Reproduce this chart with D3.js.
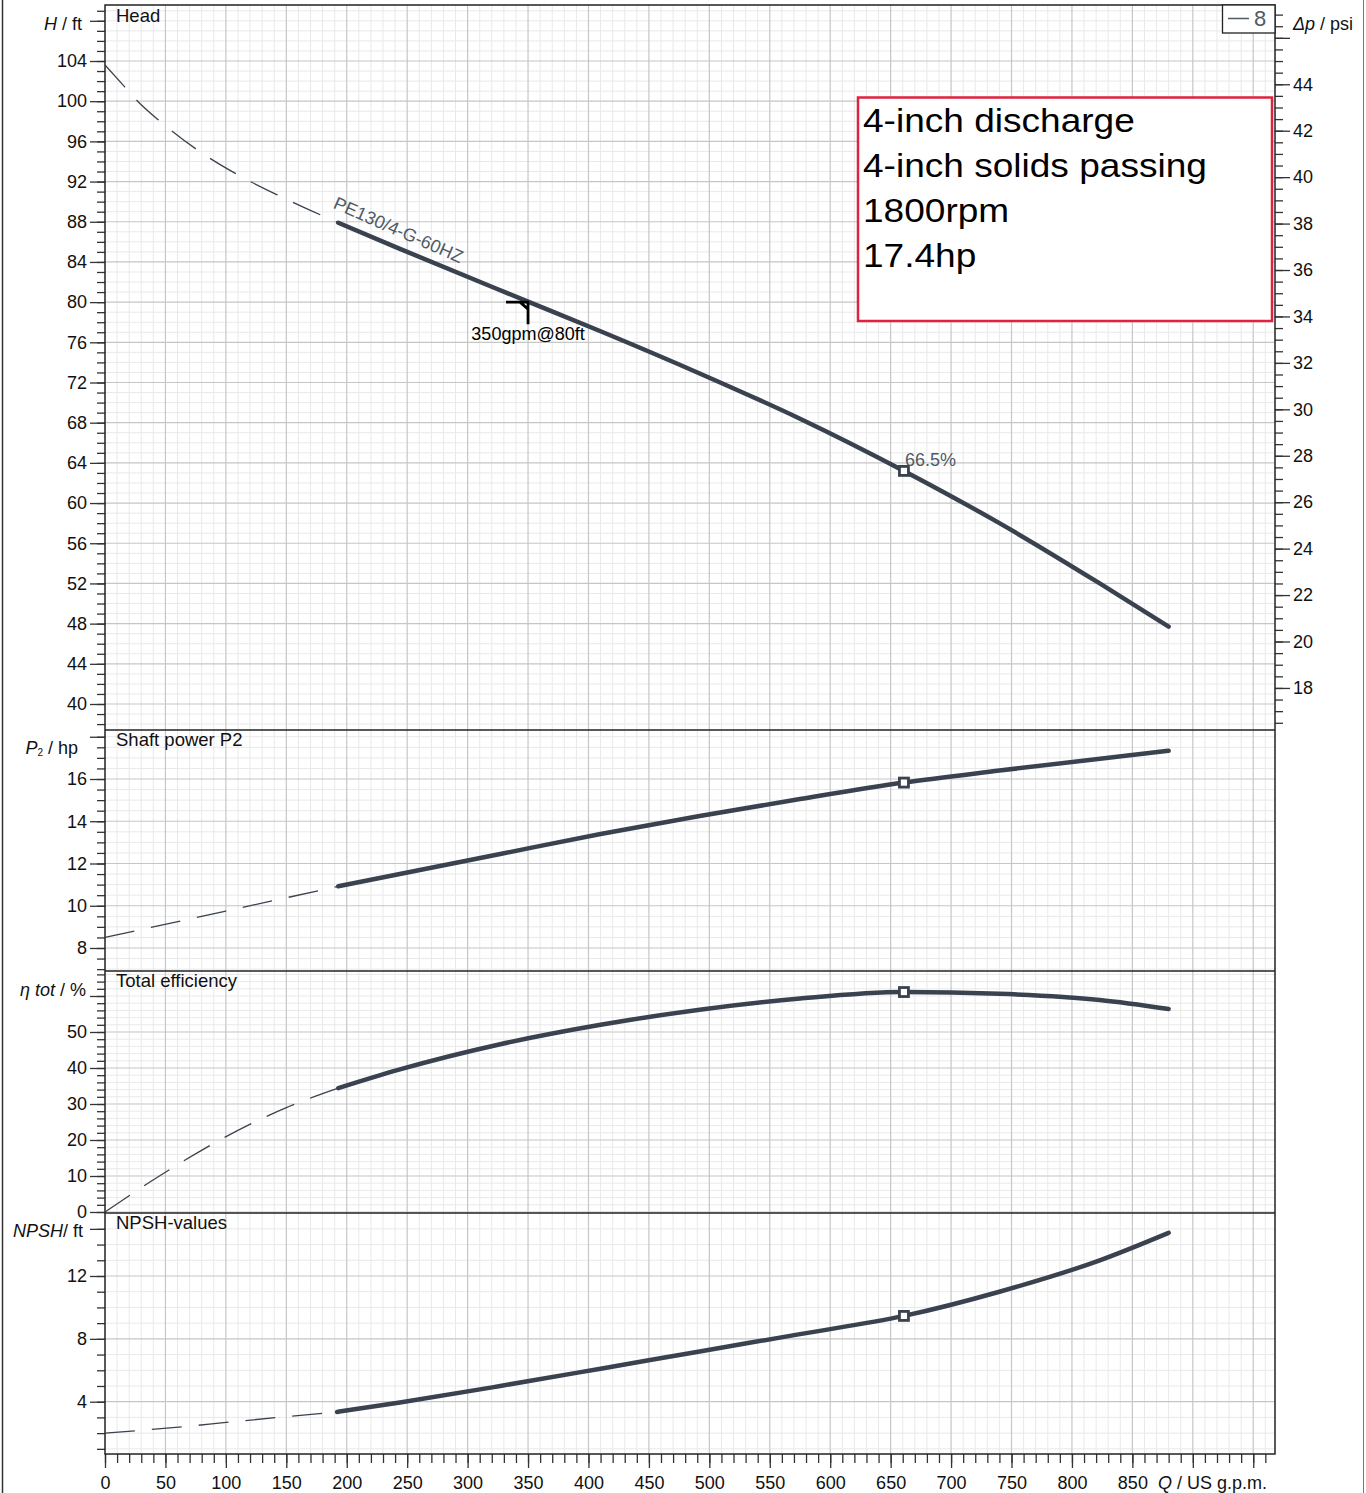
<!doctype html>
<html lang="en">
<head>
<meta charset="utf-8">
<title>PE130/4-G-60HZ</title>
<script src="https://d3js.org/d3.v7.min.js"></script>
<style>
  body { margin: 0; background: #fff; }
  svg { display: block; font-family: "Liberation Sans", Arial, Helvetica, sans-serif; }
  .tick line { stroke: #333; stroke-width: 1.3; }
  .tick text { fill: #111; font-size: 18px; }
</style>
</head>
<body>
<div id="chart"></div>
<script>
// ---- values (Q in US gpm) ----
var flowLabels = d3.range(0, 851, 50);

var headDashQ = [0, 16.5, 27, 45.5, 77, 111, 145.6, 193];
var headDashH = [103.6, 101.4, 100.0, 98.0, 95.1, 92.6, 90.5, 87.9];
var headQ = [193, 244, 349, 410, 492, 575, 661, 740, 823, 880];
var headH = [87.9, 85.3, 80.1, 77.1, 72.9, 68.4, 63.2, 58.0, 52.0, 47.7];

var powerDashQ = [0, 100, 193];
var powerDashP = [8.5, 9.75, 10.92];
var powerQ = [193, 327, 410, 492, 575, 661, 740, 880];
var powerP = [10.92, 12.45, 13.4, 14.25, 15.05, 15.83, 16.4, 17.34];

var effDashQ = [0, 45, 95, 150, 193];
var effDashE = [0, 10, 20, 29, 34.4];
var effQ = [193, 244, 327, 410, 492, 575, 661, 740, 823, 880];
var effE = [34.4, 39.6, 46.6, 52.0, 56.2, 59.3, 61.1, 60.6, 58.9, 56.4];

var npshDashQ = [0, 25, 64, 103, 143, 192];
var npshDashN = [2.0, 2.15, 2.4, 2.7, 3.0, 3.35];
var npshQ = [192, 244, 327, 410, 492, 575, 661, 740, 823, 880];
var npshN = [3.35, 3.95, 5.0, 6.1, 7.2, 8.3, 9.46, 11.0, 13.0, 14.75];

var bepQ = 661;
var dutyQ = 350, dutyH = 80;
var infoLines = ["4-inch discharge", "4-inch solids passing", "1800rpm", "17.4hp"];
var ftPerPsi = 2.311;

var headLabels = d3.range(40, 105, 4);
var psiLabels = d3.range(18, 45, 2);
var powerLabels = d3.range(8, 17, 2);
var effLabels = d3.range(0, 51, 10);
var npshLabels = [4, 8, 12];

// ---- layout ----
var width = 1366, height = 1493;
var plotLeft = 105, plotRight = 1275, plotTop = 5, plotBottom = 1454;
var ink = "#39424e", grey = "#4f5a66";

var svg = d3.select("#chart").append("svg")
    .attr("width", width)
    .attr("height", height);

var x = d3.scaleLinear().domain([0, 968]).range([plotLeft, plotRight]);

var panels = [
  { title: "Head", top: plotTop, bottom: 730,
    y: d3.scaleLinear().domain([40, 104]).range([704, 61]),
    minor: d3.range(38, 110, 1), major: d3.range(40, 109, 4), labels: headLabels },
  { title: "Shaft power P2", top: 730, bottom: 971,
    y: d3.scaleLinear().domain([8, 16]).range([948, 779]),
    minor: d3.range(7, 18.5, 0.5), major: d3.range(8, 19, 2), labels: powerLabels },
  { title: "Total efficiency", top: 971, bottom: 1213,
    y: d3.scaleLinear().domain([0, 50]).range([1212, 1032]),
    minor: d3.range(0, 67, 2), major: d3.range(0, 61, 10), labels: effLabels },
  { title: "NPSH-values", top: 1213, bottom: plotBottom,
    y: d3.scaleLinear().domain([4, 12]).range([1401.7, 1276]),
    minor: d3.range(1, 17, 1), major: [4, 8, 12, 15], labels: npshLabels }
];

function inside(p, v) {
  var yy = p.y(v);
  return yy > p.top + 0.5 && yy < p.bottom - 0.5;
}

// ---- grid ----
var grid = svg.append("g");
var vMinor = d3.range(10, 968, 10).filter(function(d) { return d % 50 !== 0; });
var vMajor = d3.range(50, 968, 50);

grid.selectAll(".vminor").data(vMinor).enter().append("line")
    .attr("x1", x).attr("x2", x).attr("y1", plotTop).attr("y2", plotBottom)
    .attr("stroke", "#e9e9e9").attr("stroke-width", 1);

panels.forEach(function(p) {
  grid.append("g").selectAll("line")
      .data(p.minor.filter(function(v) { return inside(p, v) && p.labels.indexOf(v) < 0; }))
      .enter().append("line")
      .attr("x1", plotLeft).attr("x2", plotRight)
      .attr("y1", p.y).attr("y2", p.y)
      .attr("stroke", "#e9e9e9").attr("stroke-width", 1);
});

grid.selectAll(".vmajor").data(vMajor).enter().append("line")
    .attr("x1", x).attr("x2", x).attr("y1", plotTop).attr("y2", plotBottom)
    .attr("stroke", "#c6c6c6").attr("stroke-width", 1.2);

panels.forEach(function(p) {
  grid.append("g").selectAll("line")
      .data(p.labels.filter(function(v) { return inside(p, v); }))
      .enter().append("line")
      .attr("x1", plotLeft).attr("x2", plotRight)
      .attr("y1", p.y).attr("y2", p.y)
      .attr("stroke", "#c6c6c6").attr("stroke-width", 1.2);
});

// ---- axes ----
panels.forEach(function(p) {
  var minorG = svg.append("g").attr("transform", "translate(" + plotLeft + ",0)")
      .call(d3.axisLeft(p.y).tickValues(p.minor.filter(function(v) { return inside(p, v); }))
        .tickSize(8).tickFormat(""));
  minorG.select(".domain").remove();
  var majorG = svg.append("g").attr("transform", "translate(" + plotLeft + ",0)")
      .call(d3.axisLeft(p.y).tickValues(p.major).tickSize(15).tickPadding(3)
        .tickFormat(function(v) { return p.labels.indexOf(v) >= 0 ? v : ""; }));
  majorG.select(".domain").remove();
});

var psi = d3.scaleLinear().domain([40 / ftPerPsi, 104 / ftPerPsi]).range([704, 61]);
var psiMinor = d3.range(16.5, 47.5, 0.5);
var psiMajor = d3.range(18, 47, 2);
var rMinor = svg.append("g").attr("transform", "translate(" + plotRight + ",0)")
    .call(d3.axisRight(psi).tickValues(psiMinor).tickSize(8).tickFormat(""));
rMinor.select(".domain").remove();
var rMajor = svg.append("g").attr("transform", "translate(" + plotRight + ",0)")
    .call(d3.axisRight(psi).tickValues(psiMajor).tickSize(15).tickPadding(3)
      .tickFormat(function(v) { return psiLabels.indexOf(v) >= 0 ? v : ""; }));
rMajor.select(".domain").remove();

var bMinor = svg.append("g").attr("transform", "translate(0," + plotBottom + ")")
    .call(d3.axisBottom(x).tickValues(d3.range(0, 968, 10)).tickSize(9).tickFormat(""));
bMinor.select(".domain").remove();
var bMajor = svg.append("g").attr("transform", "translate(0," + plotBottom + ")")
    .call(d3.axisBottom(x).tickValues(d3.range(0, 968, 50)).tickSize(14).tickPadding(8)
      .tickFormat(function(v) { return flowLabels.indexOf(v) >= 0 ? v : ""; }));
bMajor.select(".domain").remove();

// ---- frame and panel borders ----
var frame = svg.append("g").attr("fill", "none");
frame.append("rect")
    .attr("x", plotLeft).attr("y", plotTop)
    .attr("width", plotRight - plotLeft).attr("height", plotBottom - plotTop)
    .attr("stroke", "#222").attr("stroke-width", 1.5);
frame.selectAll(".sep").data(panels.slice(1)).enter().append("line")
    .attr("x1", plotLeft).attr("x2", plotRight)
    .attr("y1", function(p) { return p.top; }).attr("y2", function(p) { return p.top; })
    .attr("stroke", "#222").attr("stroke-width", 1.5);
frame.append("line").attr("x1", 2.5).attr("x2", 2.5).attr("y1", 0).attr("y2", height)
    .attr("stroke", "#333").attr("stroke-width", 1.5);
frame.append("line").attr("x1", 1363.5).attr("x2", 1363.5).attr("y1", 0).attr("y2", height)
    .attr("stroke", "#777").attr("stroke-width", 1);

// ---- curves ----
function path(p, qs, vs) {
  return d3.line()
      .x(function(d, i) { return x(qs[i]); })
      .y(function(d, i) { return p.y(vs[i]); })
      .curve(d3.curveMonotoneX)(qs);
}

var series = [
  [panels[0], headDashQ, headDashH, headQ, headH],
  [panels[1], powerDashQ, powerDashP, powerQ, powerP],
  [panels[2], effDashQ, effDashE, effQ, effE],
  [panels[3], npshDashQ, npshDashN, npshQ, npshN]
];

var curves = svg.append("g").attr("fill", "none").attr("stroke", ink);
series.forEach(function(s) {
  curves.append("path").attr("d", path(s[0], s[1], s[2]))
      .attr("stroke-width", 1.3).attr("stroke-dasharray", "30,17");
  curves.append("path").attr("d", path(s[0], s[3], s[4]))
      .attr("stroke-width", 4.5).attr("stroke-linecap", "round");
});

// best efficiency point markers
series.forEach(function(s) {
  var i = s[3].indexOf(bepQ);
  svg.append("rect")
      .attr("x", x(bepQ) - 4.5).attr("y", s[0].y(s[4][i]) - 4.5)
      .attr("width", 9).attr("height", 9)
      .attr("fill", "#fff").attr("stroke", ink).attr("stroke-width", 2.8);
});

// ---- labels ----
var bepH = headH[headQ.indexOf(bepQ)];
svg.append("text").attr("x", x(bepQ) + 1).attr("y", panels[0].y(bepH) - 5)
    .attr("font-size", 18).attr("fill", grey).text("66.5%");

var hx = x(headQ[0]) - 6, hy = panels[0].y(headH[0]) - 15;
svg.append("text").attr("transform", "translate(" + hx + "," + hy + ") rotate(23.6)")
    .attr("font-size", 18).attr("fill", grey).text("PE130/4-G-60HZ");

var dx = x(dutyQ), dy = panels[0].y(dutyH);
svg.append("path")
    .attr("d", "M" + (dx - 22) + "," + dy + "H" + (dx + 1) + "M" + dx + "," + dy + "V" + (dy + 22) +
      "M" + (dx - 8) + "," + dy + "L" + dx + "," + (dy + 7))
    .attr("fill", "none").attr("stroke", "#000").attr("stroke-width", 2.8);
svg.append("text").attr("x", dx).attr("y", dy + 38).attr("text-anchor", "middle")
    .attr("font-size", 18).attr("fill", "#000").text(dutyQ + "gpm@" + dutyH + "ft");

var titles = svg.append("g").attr("font-size", 18.5).attr("fill", "#111");
var titleBase = [22, 746, 987, 1229];
panels.forEach(function(p, i) {
  titles.append("text").attr("x", 116).attr("y", titleBase[i]).text(p.title);
});

var axisTitles = svg.append("g").attr("font-size", 18).attr("fill", "#111");
var t1 = axisTitles.append("text").attr("x", 82).attr("y", 30).attr("text-anchor", "end");
t1.append("tspan").attr("font-style", "italic").text("H");
t1.append("tspan").text(" / ft");
var t2 = axisTitles.append("text").attr("x", 78).attr("y", 754).attr("text-anchor", "end");
t2.append("tspan").attr("font-style", "italic").text("P");
t2.append("tspan").attr("font-size", 10).attr("dy", 2).text("2");
t2.append("tspan").attr("dy", -2).text(" / hp");
var t3 = axisTitles.append("text").attr("x", 86).attr("y", 996).attr("text-anchor", "end");
t3.append("tspan").attr("font-style", "italic").text("η tot");
t3.append("tspan").text(" / %");
var t4 = axisTitles.append("text").attr("x", 83).attr("y", 1237).attr("text-anchor", "end");
t4.append("tspan").attr("font-style", "italic").text("NPSH");
t4.append("tspan").text("/ ft");
var t5 = axisTitles.append("text").attr("x", 1293).attr("y", 30);
t5.append("tspan").attr("font-style", "italic").text("Δp");
t5.append("tspan").text("  / psi");
var t6 = axisTitles.append("text").attr("x", 1158).attr("y", 1489);
t6.append("tspan").attr("font-style", "italic").text("Q");
t6.append("tspan").text(" / US g.p.m.");

// legend
svg.append("rect").attr("x", 1222.5).attr("y", plotTop).attr("width", 52.5).attr("height", 28)
    .attr("fill", "#fff").attr("stroke", "#222").attr("stroke-width", 1.3);
svg.append("line").attr("x1", 1228).attr("x2", 1249).attr("y1", 18.5).attr("y2", 18.5)
    .attr("stroke", grey).attr("stroke-width", 1.5);
svg.append("text").attr("x", 1254).attr("y", 26).attr("font-size", 22).attr("fill", grey).text("8");

// info box
svg.append("rect").attr("x", 858).attr("y", 97.5).attr("width", 414).attr("height", 223.5)
    .attr("fill", "#fff").attr("stroke", "#e0223f").attr("stroke-width", 2.5);
var info = svg.append("g").attr("font-size", 34).attr("fill", "#000");
infoLines.forEach(function(line, i) {
  info.append("text")
      .attr("transform", "translate(863," + (132 + i * 45) + ") scale(1.09,1)")
      .text(line);
});
</script>
</body>
</html>
